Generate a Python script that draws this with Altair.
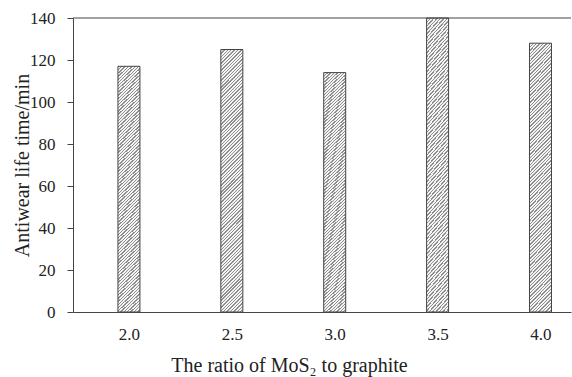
import altair as alt
import pandas as pd

# Data
ratio = [2.0, 2.5, 3.0, 3.5, 4.0]
life = [117, 125, 114, 140, 128]
y_ticks = [0, 20, 40, 60, 80, 100, 120, 140]

df = pd.DataFrame({"ratio": ratio, "life": life})

FONT = "Liberation Serif"
TXT = "#222222"
AX = "#444444"

# fine diagonal hatch pattern built as a striped linear gradient (style only)
W_BAR, H0 = 22.0, 262.0
a, b = 1.0 / H0, 1.0 / W_BAR
s = (a + b) / (a * a + b * b)
n = 84
stops = []
for i in range(n):
    o0 = i / n
    o1 = (i + 0.42) / n
    o2 = (i + 1) / n
    stops += [
        {"offset": round(o0, 5), "color": "#8f8f8f"},
        {"offset": round(o1, 5), "color": "#8f8f8f"},
        {"offset": round(o1, 5), "color": "#f4f4f4"},
        {"offset": round(o2, 5), "color": "#f4f4f4"},
    ]
hatch = {"gradient": "linear", "x1": 0, "y1": 0,
         "x2": round(s * a, 5), "y2": round(s * b, 5), "stops": stops}

x_scale = alt.Scale(domain=[1.7524, 4.124], nice=False, zero=False)
y_scale = alt.Scale(domain=[0, 140], nice=False)

bars = alt.Chart(df).mark_bar(
    width=W_BAR, fill=hatch, stroke="#444444", strokeWidth=1
).encode(
    x=alt.X("ratio:Q", scale=x_scale,
            axis=alt.Axis(values=ratio, format=".1f", ticks=False, grid=False,
                          domainColor=AX, domainWidth=1,
                          labelFont=FONT, labelFontSize=17, labelColor=TXT,
                          labelPadding=14,
                          title="The ratio of MoS₂ to graphite",
                          titleFont=FONT, titleFontSize=20, titleFontWeight="normal",
                          titleColor=TXT, titleX=216, titleY=59,
                          titleBaseline="alphabetic")),
    y=alt.Y("life:Q", scale=y_scale,
            axis=alt.Axis(values=y_ticks, grid=False, tickSize=6, tickColor=AX,
                          domainColor=AX, domainWidth=1,
                          labelFont=FONT, labelFontSize=17, labelColor=TXT,
                          labelPadding=12,
                          title="Antiwear life time/min",
                          titleFont=FONT, titleFontSize=20, titleFontWeight="normal",
                          titleColor=TXT, titleX=-51, titleY=147,
                          titleBaseline="middle")),
)

top = alt.Chart(pd.DataFrame({"t": [140]})).mark_rule(
    color=AX, strokeWidth=1
).encode(
    y=alt.Y("t:Q", scale=y_scale),
    x=alt.value(0),
    x2=alt.value(498),
)

chart = alt.layer(bars, top).properties(
    width=498,
    height=294,
    autosize=alt.AutoSizeParams(type="none"),
    padding={"left": 73, "top": 18, "right": 1, "bottom": 65},
    background="white",
).configure_view(strokeWidth=0)

chart.save("out.html", embed_options={"renderer": "svg", "actions": False})
